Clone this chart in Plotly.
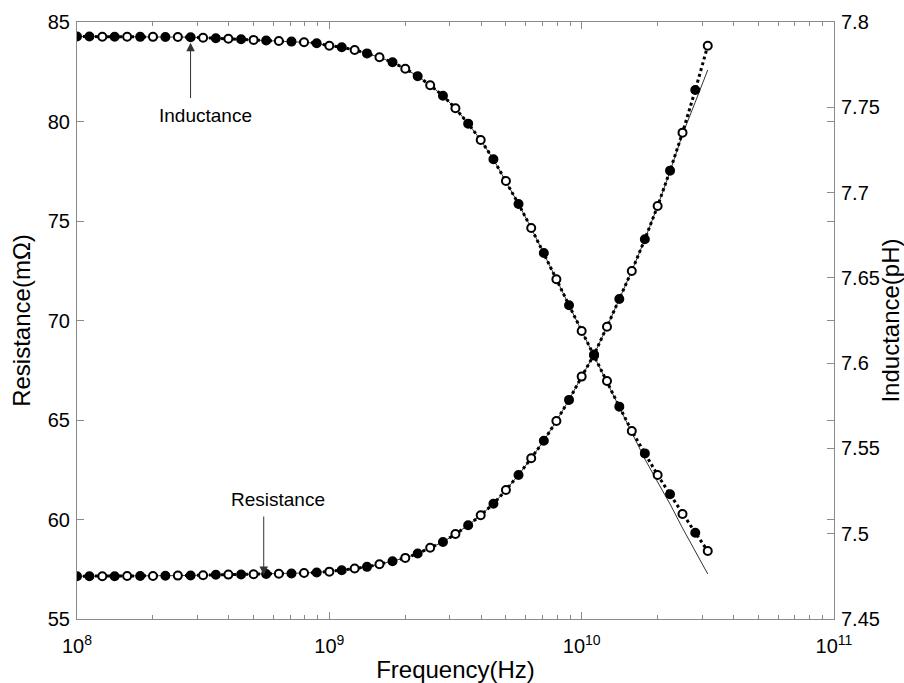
import plotly.graph_objects as go

# Frequency sweep (Hz)
freq = [1.00e8, 1.12e8, 1.26e8, 1.41e8, 1.58e8, 1.78e8, 2.00e8, 2.24e8, 2.51e8, 2.82e8,
        3.16e8, 3.55e8, 3.98e8, 4.47e8, 5.01e8, 5.62e8, 6.31e8, 7.08e8, 7.94e8, 8.91e8,
        1.00e9, 1.12e9, 1.26e9, 1.41e9, 1.58e9, 1.78e9, 2.00e9, 2.24e9, 2.51e9, 2.82e9,
        3.16e9, 3.55e9, 3.98e9, 4.47e9, 5.01e9, 5.62e9, 6.31e9, 7.08e9, 7.94e9, 8.91e9,
        1.00e10, 1.12e10, 1.26e10, 1.41e10, 1.58e10, 1.78e10, 2.00e10, 2.24e10, 2.51e10, 2.82e10,
        3.16e10]

# Resistance (mOhm) - measured points
resistance = [57.15, 57.15, 57.15, 57.15, 57.16, 57.16, 57.16, 57.17, 57.18, 57.19,
              57.20, 57.22, 57.23, 57.24, 57.25, 57.26, 57.27, 57.29, 57.31, 57.34,
              57.38, 57.45, 57.54, 57.62, 57.75, 57.90, 58.07, 58.29, 58.58, 58.87,
              59.27, 59.71, 60.21, 60.79, 61.48, 62.24, 63.08, 63.96, 64.95, 66.01,
              67.18, 68.29, 69.69, 71.08, 72.49, 74.08, 75.75, 77.53, 79.44, 81.58,
              83.81]
# Resistance (mOhm) - model (thin line)
resistance_model = [57.15, 57.15, 57.15, 57.15, 57.16, 57.16, 57.16, 57.17, 57.18, 57.19,
                    57.20, 57.22, 57.23, 57.24, 57.25, 57.26, 57.27, 57.29, 57.31, 57.34,
                    57.38, 57.45, 57.54, 57.62, 57.75, 57.90, 58.07, 58.29, 58.58, 58.87,
                    59.27, 59.71, 60.21, 60.79, 61.48, 62.24, 63.08, 63.96, 64.95, 66.01,
                    67.18, 68.29, 69.69, 71.08, 72.49, 74.08, 75.75, 77.50, 79.35, 80.98,
                    82.59]

# Inductance (pH) - measured points
inductance = [7.7915, 7.7915, 7.7914, 7.7914, 7.7914, 7.7913, 7.7913, 7.7912, 7.7912, 7.7911,
              7.7908, 7.7905, 7.7902, 7.7899, 7.7895, 7.7892, 7.7889, 7.7885, 7.7881, 7.7875,
              7.7861, 7.7852, 7.7836, 7.7816, 7.7793, 7.7764, 7.7726, 7.7682, 7.7629, 7.7568,
              7.7494, 7.7404, 7.7308, 7.7195, 7.7068, 7.6933, 7.6792, 7.6646, 7.6492, 7.6339,
              7.6188, 7.6045, 7.5895, 7.5745, 7.5602, 7.5471, 7.5344, 7.5231, 7.5116, 7.5006,
              7.4899]
# Inductance (pH) - model (thin line)
inductance_model = [7.7915, 7.7915, 7.7914, 7.7914, 7.7914, 7.7913, 7.7913, 7.7912, 7.7912, 7.7911,
                    7.7908, 7.7905, 7.7902, 7.7899, 7.7895, 7.7892, 7.7889, 7.7885, 7.7881, 7.7875,
                    7.7861, 7.7852, 7.7836, 7.7816, 7.7793, 7.7764, 7.7726, 7.7682, 7.7629, 7.7568,
                    7.7494, 7.7404, 7.7308, 7.7195, 7.7068, 7.6933, 7.6792, 7.6646, 7.6492, 7.6339,
                    7.6188, 7.6045, 7.5893, 7.5740, 7.5590, 7.5438, 7.5303, 7.5174, 7.5033, 7.4899,
                    7.4764]

x_tickvals = [1e8, 1e9, 1e10, 1e11]
x_ticktext = ["10<sup>8</sup>", "10<sup>9</sup>", "10<sup>10</sup>", "10<sup>11</sup>"]
y_left_ticks = [55, 60, 65, 70, 75, 80, 85]
y_right_ticks = [7.45, 7.5, 7.55, 7.6, 7.65, 7.7, 7.75, 7.8]
y_right_text = ["7.45", "7.5", "7.55", "7.6", "7.65", "7.7", "7.75", "7.8"]

FONT = "Arial, Liberation Sans, sans-serif"
AX = "#8a8a8a"

fills = ["black" if (i % 2 == 1 or i == 0) else "white" for i in range(len(freq))]

minor_vals = []
for dec in [1e8, 1e9, 1e10]:
    for m in range(2, 10):
        minor_vals.append(m * dec)

fig = go.Figure()

fig.add_trace(go.Scatter(x=freq, y=resistance_model, mode="lines",
                         line=dict(color="#333333", width=1), yaxis="y", showlegend=False))
fig.add_trace(go.Scatter(x=freq, y=inductance_model, mode="lines",
                         line=dict(color="#333333", width=1), yaxis="y2", showlegend=False))

fig.add_trace(go.Scatter(x=freq, y=resistance, mode="lines+markers",
                         line=dict(color="black", width=3, dash="dot"),
                         marker=dict(symbol="circle", size=8, color=fills,
                                     line=dict(color="black", width=2)),
                         yaxis="y", showlegend=False))
fig.add_trace(go.Scatter(x=freq, y=inductance, mode="lines+markers",
                         line=dict(color="black", width=3, dash="dot"),
                         marker=dict(symbol="circle", size=8, color=fills,
                                     line=dict(color="black", width=2)),
                         yaxis="y2", showlegend=False))

fig.update_layout(
    width=904, height=683,
    margin=dict(l=77, r=70, t=22, b=64, autoexpand=False),
    paper_bgcolor="white", plot_bgcolor="white",
    font=dict(family=FONT, size=19, color="black"),
    xaxis=dict(type="log", range=[8, 11], tickvals=x_tickvals, ticktext=x_ticktext,
               ticks="inside", ticklen=7, tickwidth=1, tickcolor=AX,
               showline=True, linecolor=AX, linewidth=1, mirror="ticks",
               showgrid=False, zeroline=False, automargin=False,
               minor=dict(tickvals=minor_vals, ticks="inside", ticklen=4, tickcolor=AX, showgrid=False),
               tickfont=dict(size=20), ticklabelstandoff=9,
               title=dict(text="Frequency(Hz)", font=dict(size=24), standoff=12)),
    yaxis=dict(range=[55, 85], tickvals=y_left_ticks,
               ticks="inside", ticklen=7, tickwidth=1, tickcolor=AX,
               showline=True, linecolor=AX, linewidth=1, mirror="ticks",
               showgrid=False, zeroline=False, tickfont=dict(size=20),
               ticklabelstandoff=2, automargin=False,
               title=dict(text="Resistance(mΩ)", font=dict(size=24), standoff=10)),
    yaxis2=dict(range=[7.45, 7.8], tickvals=y_right_ticks, ticktext=y_right_text,
                overlaying="y", side="right",
                ticks="inside", ticklen=7, tickwidth=1, tickcolor=AX,
                showline=True, linecolor=AX, linewidth=1,
                showgrid=False, zeroline=False, tickfont=dict(size=20),
                ticklabelstandoff=2, automargin=False,
                title=dict(text="Inductance(pH)", font=dict(size=24), standoff=6)),
    annotations=[
        dict(x=8.45, y=7.7879, xref="x", yref="y2", text="", showarrow=True,
             ax=0, ay=57, axref="pixel", ayref="pixel",
             arrowhead=2, arrowsize=1.7, arrowwidth=1, arrowcolor="#333333"),
        dict(x=8.509, y=7.7449, xref="x", yref="y2", text="Inductance", showarrow=False,
             font=dict(size=19)),
        dict(x=8.74, y=57.21, xref="x", yref="y", text="", showarrow=True,
             ax=0, ay=-60, axref="pixel", ayref="pixel",
             arrowhead=2, arrowsize=1.7, arrowwidth=1, arrowcolor="#333333"),
        dict(x=8.797, y=61.03, xref="x", yref="y", text="Resistance", showarrow=False,
             font=dict(size=19)),
    ],
)

fig.write_html("out.html")
